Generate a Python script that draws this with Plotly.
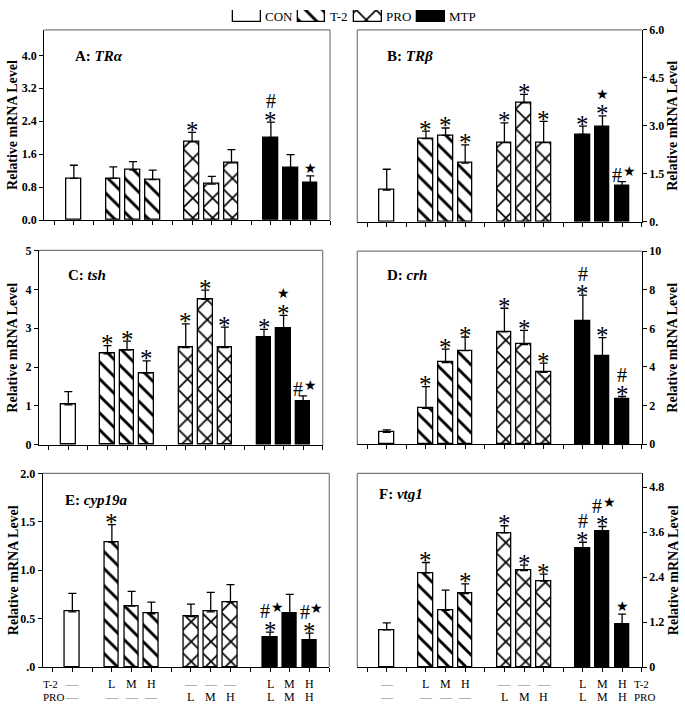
import plotly.graph_objects as go

W, H = 685, 709
SERIF = "Liberation Serif"
STARF = "DejaVu Sans"

# ---------------- data ----------------
group_names = ["CON", "T-2", "PRO", "MTP"]
bar_group = [0, 1, 1, 1, 2, 2, 2, 3, 3, 3]
bar_slot = [1, 3, 4, 5, 7, 8, 9, 11, 12, 13]
t2_labels = ["—", "L", "M", "H", "—", "—", "—", "L", "M", "H"]
pro_labels = ["—", "—", "—", "—", "L", "M", "H", "L", "M", "H"]

# A: TRα
tra_mean = [1.01, 1.01, 1.22, 0.98, 1.90, 0.87, 1.39, 2.00, 1.27, 0.90]
tra_sem = [0.32, 0.28, 0.20, 0.23, 0.23, 0.19, 0.32, 0.38, 0.32, 0.17]
tra_sig = ["", "", "", "", "*", "", "", "*|#", "", "★"]

# B: TRβ
trb_mean = [0.99, 2.60, 2.70, 1.83, 2.47, 3.72, 2.47, 2.73, 2.97, 1.13]
trb_sem = [0.65, 0.23, 0.23, 0.57, 0.62, 0.26, 0.67, 0.26, 0.34, 0.12]
trb_sig = ["", "*", "*", "*", "*", "*", "*", "*", "*|★", "#★"]

# C: tsh
tsh_mean = [1.03, 2.34, 2.44, 1.85, 2.50, 3.74, 2.50, 2.76, 3.00, 1.13]
tsh_sem = [0.34, 0.21, 0.23, 0.31, 0.61, 0.24, 0.53, 0.21, 0.33, 0.13]
tsh_sig = ["", "*", "*", "*", "*", "*", "*", "*", "*|★", "#★"]

# D: crh
crh_mean = [0.61, 1.86, 4.23, 4.84, 5.82, 5.16, 3.72, 6.36, 4.57, 2.32]
crh_sem = [0.13, 1.12, 0.69, 0.71, 1.22, 0.73, 0.48, 1.36, 0.95, 0.15]
crh_sig = ["", "*", "*", "*", "*", "*", "*", "*|#", "*", "*|#"]

# E: cyp19a
cyp_mean = [0.57, 1.29, 0.63, 0.55, 0.52, 0.57, 0.67, 0.31, 0.55, 0.28]
cyp_sem = [0.19, 0.18, 0.15, 0.12, 0.13, 0.20, 0.18, 0.05, 0.20, 0.07]
cyp_sig = ["", "*", "", "", "", "", "", "*|#★", "", "*|#★"]

# F: vtg1
vtg_mean = [0.99, 2.51, 1.51, 1.96, 3.58, 2.57, 2.29, 3.17, 3.62, 1.13]
vtg_sem = [0.19, 0.28, 0.54, 0.26, 0.19, 0.15, 0.19, 0.16, 0.13, 0.28]
vtg_sig = ["", "*", "", "*", "*", "*", "*", "*|#", "*|#★", "★"]

panels = [
    dict(letter="A", gene="TRα", mean=tra_mean, sem=tra_sem, sig=tra_sig, ymax=4.62,
         tickvals=[0, 0.8, 1.6, 2.4, 3.2, 4.0], ticktext=["0.0", "0.8", "1.6", "2.4", "3.2", "4.0"],
         side="left", box=(44.3, 23.3, 330.0, 217.3), toff=(29, 27)),
    dict(letter="B", gene="TRβ", mean=trb_mean, sem=trb_sem, sig=trb_sig, ymax=6.0,
         tickvals=[0, 1.5, 3.0, 4.5, 6.0], ticktext=["0.", "1.5", "3.0", "4.5", "6.0"],
         side="right", box=(357.3, 23.3, 641.7, 219.0), toff=(28, 27)),
    dict(letter="C", gene="tsh", mean=tsh_mean, sem=tsh_sem, sig=tsh_sig, ymax=5.0,
         tickvals=[0, 1, 2, 3, 4, 5], ticktext=["0", "1", "2", "3", "4", "5"],
         side="left", box=(39.0, 248.3, 322.7, 446.7), toff=(27, 25)),
    dict(letter="D", gene="crh", mean=crh_mean, sem=crh_sem, sig=crh_sig, ymax=10.0,
         tickvals=[0, 2, 4, 6, 8, 10], ticktext=["0", "2", "4", "6", "8", "10"],
         side="right", box=(357.3, 249.0, 641.7, 446.0), toff=(28, 24)),
    dict(letter="E", gene="cyp19a", mean=cyp_mean, sem=cyp_sem, sig=cyp_sig, ymax=2.0,
         tickvals=[0, 0.5, 1.0, 1.5, 2.0], ticktext=[".0", "0.5", "1.0", "1.5", "2.0"],
         side="left", box=(42.7, 475.7, 329.3, 673.3), toff=(20, 27)),
    dict(letter="F", gene="vtg1", mean=vtg_mean, sem=vtg_sem, sig=vtg_sig, ymax=5.17,
         tickvals=[0, 1.2, 2.4, 3.6, 4.8], ticktext=["0", "1.2", "2.4", "3.6", "4.8"],
         side="right", box=(357.3, 475.7, 641.7, 673.3), toff=(20, 21)),
]

# ---------------- styles ----------------
def group_marker(g):
    line = dict(color="black", width=1.3)
    if g == 0:
        return dict(color="white", line=line)
    if g == 1:
        return dict(color="white", line=line,
                    pattern=dict(shape="\\", fgcolor="black", bgcolor="white", size=12,
                                 solidity=0.24, fgopacity=1))
    if g == 2:
        return dict(color="white", line=line,
                    pattern=dict(shape="x", fgcolor="black", bgcolor="white", size=14,
                                 solidity=0.22, fgopacity=1))
    return dict(color="black", line=line)

fig = go.Figure()
annotations = []
shapes = []

def px_x(v):
    return v / W

def px_y(v):
    return 1 - v / H

for k, p in enumerate(panels, start=1):
    xa = "x" if k == 1 else f"x{k}"
    ya = "y" if k == 1 else f"y{k}"
    xl = "xaxis" if k == 1 else f"xaxis{k}"
    yl = "yaxis" if k == 1 else f"yaxis{k}"
    left, top, right, bottom = p["box"]

    for g in range(4):
        idx = [i for i, gg in enumerate(bar_group) if gg == g]
        fig.add_trace(go.Bar(
            x=[bar_slot[i] for i in idx],
            y=[p["mean"][i] for i in idx],
            width=0.74,
            marker=group_marker(g),
            error_y=dict(type="data", symmetric=False,
                         array=[p["sem"][i] for i in idx],
                         arrayminus=[0] * len(idx),
                         color="black", thickness=1.3, width=4),
            xaxis=xa, yaxis=ya, showlegend=False, name=group_names[g],
        ))

    fig.layout[xl] = dict(domain=[px_x(left), px_x(right)], range=[-0.5, 14],
                          tickvals=list(range(15)), ticks="outside", ticklen=4,
                          tickcolor="black", showticklabels=False, showline=True,
                          linecolor="black", linewidth=1.3, showgrid=False,
                          zeroline=False, anchor=ya, fixedrange=True)
    fig.layout[yl] = dict(domain=[px_y(bottom), px_y(top)], range=[0, p["ymax"]],
                          tickvals=p["tickvals"], ticktext=p["ticktext"],
                          ticks="outside", ticklen=4, tickcolor="black",
                          tickfont=dict(family=SERIF, size=12, color="black", weight="bold"),
                          showline=True, linecolor="black", linewidth=1.3,
                          showgrid=False, zeroline=False, side=p["side"],
                          anchor=xa, fixedrange=True)

    # gray frame on the non-axis sides
    gray = dict(color="#7a7a7a", width=1.2)
    shapes.append(dict(type="line", xref="paper", yref="paper",
                       x0=px_x(left), x1=px_x(right), y0=px_y(top), y1=px_y(top), line=gray))
    other_x = right if p["side"] == "left" else left
    shapes.append(dict(type="line", xref="paper", yref="paper",
                       x0=px_x(other_x), x1=px_x(other_x), y0=px_y(top), y1=px_y(bottom), line=gray))

    # panel title
    annotations.append(dict(text=f"<b>{p['letter']}: <i>{p['gene']}</i></b>",
                            xref="paper", yref="paper",
                            x=px_x(left + p["toff"][0]), y=px_y(top + p["toff"][1]),
                            xanchor="left", yanchor="middle", showarrow=False,
                            font=dict(family=SERIF, size=15, color="black")))
    # y-axis title
    tx = 13 if p["side"] == "left" else 673
    annotations.append(dict(text="<b>Relative mRNA Level</b>", textangle=-90,
                            xref="paper", yref="paper",
                            x=px_x(tx), y=px_y((top + bottom) / 2),
                            xanchor="center", yanchor="middle", showarrow=False,
                            font=dict(family=SERIF, size=14, color="black")))

    # significance marks
    for i, s in enumerate(p["sig"]):
        if not s:
            continue
        ytop = p["mean"][i] + p["sem"][i]
        for j, line in enumerate(s.split("|")):
            base = 7 + 14 * j
            common = dict(xref=xa, yref=ya, x=bar_slot[i], y=ytop, showarrow=False,
                          xanchor="center", yanchor="middle")
            if line == "*":
                annotations.append(dict(text="*", yshift=base - 5,
                                        font=dict(family=SERIF, size=25, color="black"), **common))
            elif line == "#":
                annotations.append(dict(text="#", yshift=base,
                                        font=dict(family=SERIF, size=20, color="black"), **common))
            elif line == "★":
                annotations.append(dict(text="★", yshift=base + 1,
                                        font=dict(family=STARF, size=14, color="black"), **common))
            elif line == "#★":
                annotations.append(dict(text="#", yshift=base, xshift=-5,
                                        font=dict(family=SERIF, size=20, color="black"), **common))
                annotations.append(dict(text="★", yshift=base + 4, xshift=7,
                                        font=dict(family=STARF, size=14, color="black"), **common))

# ---------------- treatment rows under E and F ----------------
for k, row_name_side in ((5, "left"), (6, "right")):
    xa = f"x{k}"
    for row, labels, ypx in (("T-2", t2_labels, 691), ("PRO", pro_labels, 704)):
        for i, lab in enumerate(labels):
            annotations.append(dict(text=lab, xref=xa, yref="paper", x=bar_slot[i], y=px_y(ypx),
                                    xanchor="center", yanchor="middle", showarrow=False,
                                    font=dict(family=SERIF, size=12,
                                              color="#777" if lab == "—" else "black")))
        nx = 41 if row_name_side == "left" else 632
        annotations.append(dict(text=row, xref="paper", yref="paper", x=px_x(nx), y=px_y(ypx),
                                xanchor="left", yanchor="middle", showarrow=False,
                                font=dict(family=SERIF, size=11, color="black")))

# ---------------- legend (swatches on an auxiliary axis) ----------------
legend_box_left = [233.0, 297.7, 354.0, 417.3]
legend_box_w = 27.5
for g in range(4):
    fig.add_trace(go.Bar(x=[legend_box_left[g] + legend_box_w / 2], y=[1], width=legend_box_w,
                         marker=group_marker(g), xaxis="x7", yaxis="y7",
                         showlegend=False, name=group_names[g]))
    annotations.append(dict(text=group_names[g], xref="paper", yref="paper",
                            x=px_x(legend_box_left[g] + legend_box_w + 2.5), y=px_y(9.3),
                            xanchor="left", yanchor="middle", showarrow=False,
                            font=dict(family=SERIF, size=13, color="black")))
fig.layout["xaxis7"] = dict(domain=[0, 1], range=[0, W], visible=False, fixedrange=True, anchor="y7")
fig.layout["yaxis7"] = dict(domain=[px_y(15.5), px_y(3.0)], range=[0, 1], visible=False,
                            fixedrange=True, anchor="x7")

fig.update_layout(width=W, height=H, autosize=False,
                  margin=dict(l=0, r=0, t=0, b=0),
                  paper_bgcolor="white", plot_bgcolor="rgba(0,0,0,0)",
                  barmode="overlay", bargap=0,
                  annotations=annotations, shapes=shapes,
                  font=dict(family=SERIF, color="black"))

fig.write_html("out.html", config={"displayModeBar": False},
               post_script="document.body.style.margin='0';document.body.style.overflow='hidden';")
